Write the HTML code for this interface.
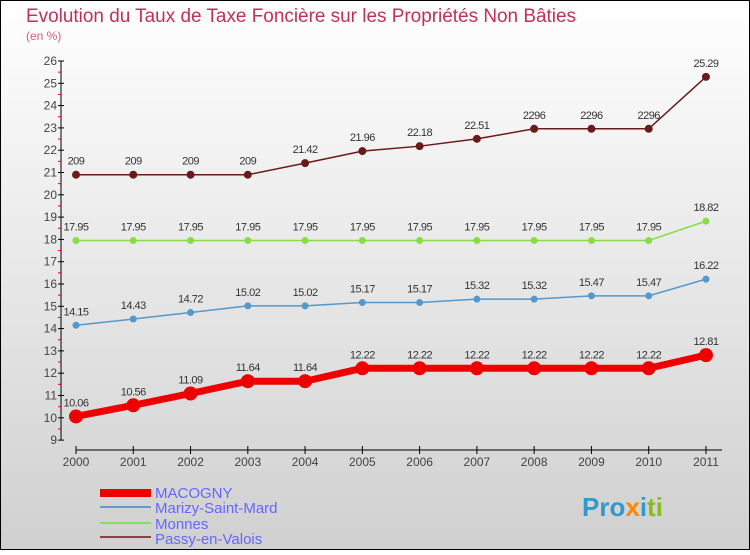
<!DOCTYPE html>
<html><head><meta charset="utf-8"><style>
body{margin:0}
svg text{font-family:"Liberation Sans",sans-serif}
</style></head><body>
<svg width="750" height="550" xmlns="http://www.w3.org/2000/svg">
<defs><linearGradient id="bg" x1="0" y1="0" x2="0" y2="1"><stop offset="0" stop-color="#ffffff"/><stop offset="1" stop-color="#d0d0d0"/></linearGradient></defs>
<rect x="0.5" y="0.5" width="749" height="549" fill="url(#bg)" stroke="#000"/>
<text x="26" y="22" font-size="19" fill="#c0305a" textLength="550" lengthAdjust="spacingAndGlyphs">Evolution du Taux de Taxe Foncière sur les Propriétés Non Bâties</text>
<text x="26" y="40" font-size="12" fill="#d06080">(en %)</text>
<g id="axes"></g><g id="series"></g>
<g>
<rect x="100" y="489" width="51" height="8" fill="#ee0000"/>
<text x="155" y="498" font-size="15" fill="#6666ff">MACOGNY</text>
<line x1="100" x2="151" y1="507" y2="507" stroke="#6699cc" stroke-width="2"/>
<text x="155" y="513" font-size="15" fill="#6666ff">Marizy-Saint-Mard</text>
<line x1="100" x2="151" y1="523" y2="523" stroke="#88dd66" stroke-width="2"/>
<text x="155" y="529" font-size="15" fill="#6666ff">Monnes</text>
<line x1="100" x2="151" y1="537" y2="537" stroke="#884444" stroke-width="2"/>
<text x="155" y="544" font-size="15" fill="#6666ff">Passy-en-Valois</text>
</g>
<text x="582" y="516" font-size="26" font-weight="bold"><tspan fill="#3399cc">Pro</tspan><tspan fill="#ff8800">x</tspan><tspan fill="#3399cc">i</tspan><tspan fill="#88bb22">ti</tspan></text>
</svg>
<script>
const years=["2000","2001","2002","2003","2004","2005","2006","2007","2008","2009","2010","2011"];
const macogny=[10.06,10.56,11.09,11.64,11.64,12.22,12.22,12.22,12.22,12.22,12.22,12.81];
const marizy=[14.15,14.43,14.72,15.02,15.02,15.17,15.17,15.32,15.32,15.47,15.47,16.22];
const monnes=[17.95,17.95,17.95,17.95,17.95,17.95,17.95,17.95,17.95,17.95,17.95,18.82];
const passy=[20.9,20.9,20.9,20.9,21.42,21.96,22.18,22.51,22.96,22.96,22.96,25.29];
const yTicks=[9,10,11,12,13,14,15,16,17,18,19,20,21,22,23,24,25,26];
const NS="http://www.w3.org/2000/svg";
const xS=i=>76+i*57.27, yS=v=>61+(26-v)*22.3;
function mk(p,t,a){const e=document.createElementNS(NS,t);for(const k in a)e.setAttribute(k,a[k]);p.appendChild(e);return e;}
const ax=document.getElementById('axes'), sg=document.getElementById('series');
let l=mk(ax,'line',{x1:61,x2:61,y1:61,y2:440,stroke:'#000'});


yTicks.forEach(v=>{
 const t=mk(ax,'line',{x1:58,x2:64,y1:yS(v),y2:yS(v),stroke:'#000'});
 
 
 if(v<26){const m=mk(ax,'line',{x1:58,x2:61,y1:yS(v+0.5),y2:yS(v+0.5),stroke:'#e00'});
 
 }
 const tx=mk(ax,'text',{x:57,y:yS(v)+4,'font-size':12,fill:'#444','text-anchor':'end'});tx.textContent=v;
 
 
});
l=mk(ax,'line',{x1:76,x2:722,y1:450,y2:450,stroke:'#000'});


years.forEach((y,i)=>{
 const t=mk(ax,'line',{x1:xS(i),x2:xS(i),y1:446,y2:454,stroke:'#000'});
 
 
 const tx=mk(ax,'text',{x:xS(i),y:466,'font-size':12,fill:'#444','text-anchor':'middle'});tx.textContent=y;
 
 
});
function draw(arr,name,col,w,r){
 const pl=mk(sg,'polyline',{points:arr.map((v,i)=>xS(i)+','+yS(v)).join(' '),fill:'none',stroke:col,'stroke-width':w});
 
 
 arr.forEach((v,i)=>{
  const c=mk(sg,'circle',{cx:xS(i),cy:yS(v),r:r,fill:col});
  
  
  const t=mk(sg,'text',{x:xS(i),y:yS(v)-10,'font-size':11,fill:'#333','text-anchor':'middle','letter-spacing':'-0.5'});
  t.textContent=v.toFixed(2).replace(/0$/,'').replace(/\.$/,'');
  if(name==='passy'&&v===20.9)t.textContent='209';
  if(name==='passy'&&v===22.96)t.textContent='2296';
  
  
 });
}
draw(passy,'passy','#6b1a1a',1.5,4);
draw(monnes,'monnes','#88dd44',1.5,3.5);
draw(marizy,'marizy','#5599cc',1.5,3.5);
draw(macogny,'macogny','#ee0000',7,7);
</script>
</body></html>
